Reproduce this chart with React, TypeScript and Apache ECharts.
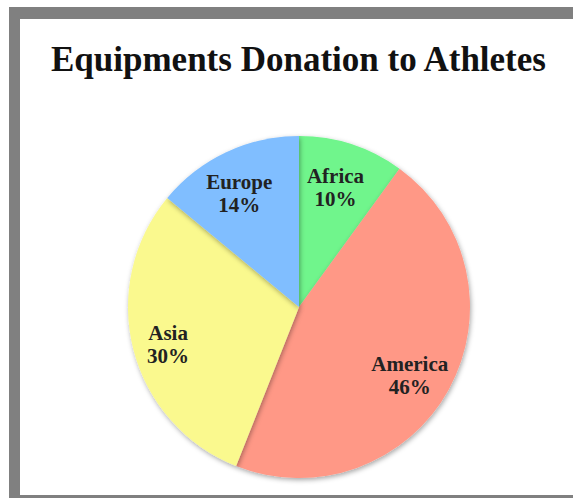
import React, { useEffect, useRef } from "react";
import * as echarts from "echarts";

const categories = ["Africa", "America", "Asia", "Europe"];
const values = [10, 46, 30, 14];
const colors = ["#70F58C", "#FF9886", "#FAF98E", "#80BEFF"];
const titleText = "Equipments Donation to Athletes";

export default function App() {
  const ref = useRef<HTMLDivElement>(null);
  useEffect(() => {
    document.body.style.margin = "0";
    const chart = echarts.init(ref.current!, null, { renderer: "svg" });
    const data = categories.map((c, i) => ({
      name: c,
      value: values[i],
      itemStyle: { color: colors[i] },
    }));
    const labelData = categories.map((c, i) => ({ name: c, value: values[i] }));
    chart.setOption({
      animation: false,
      backgroundColor: "#ffffff",
      title: {
        text: titleText,
        left: 46,
        top: 37,
        textStyle: {
          fontFamily: "Liberation Serif",
          fontWeight: "bold",
          fontSize: 35,
          color: "#111111",
        },
      },
      graphic: [
        { type: "rect", shape: { x: 9, y: 7, width: 564, height: 12 }, style: { fill: "#808080" } },
        { type: "rect", shape: { x: 9, y: 7, width: 11, height: 491 }, style: { fill: "#808080" } },
        { type: "rect", shape: { x: 9, y: 495, width: 564, height: 3 }, style: { fill: "#808080" } },
      ],
      series: [
        {
          type: "pie",
          center: [299, 307],
          radius: [0, 171],
          startAngle: 90,
          clockwise: true,
          data,
          label: { show: false },
          labelLine: { show: false },
          silent: true,
          itemStyle: {
            borderWidth: 0,
            shadowBlur: 5,
            shadowOffsetX: 1,
            shadowOffsetY: 2,
            shadowColor: "rgba(0,0,0,0.35)",
          },
        },
        {
          type: "pie",
          center: [299, 307],
          radius: [85, 171],
          startAngle: 90,
          clockwise: true,
          data: labelData,
          silent: true,
          itemStyle: { color: "rgba(0,0,0,0)", borderWidth: 0 },
          labelLine: { show: false },
          label: {
            show: true,
            position: "inside",
            offset: [-4, 5],
            formatter: (p: any) => `${p.name}\n${p.value}%`,
            fontFamily: "Liberation Serif",
            fontWeight: "bold",
            fontSize: 21,
            lineHeight: 23,
            color: "#222222",
            textBorderWidth: 0,
          },
        },
      ],
    });
    return () => chart.dispose();
  }, []);
  return (
    <div
      ref={ref}
      style={{ position: "fixed", left: 0, top: 0, width: 573, height: 498 }}
    />
  );
}
